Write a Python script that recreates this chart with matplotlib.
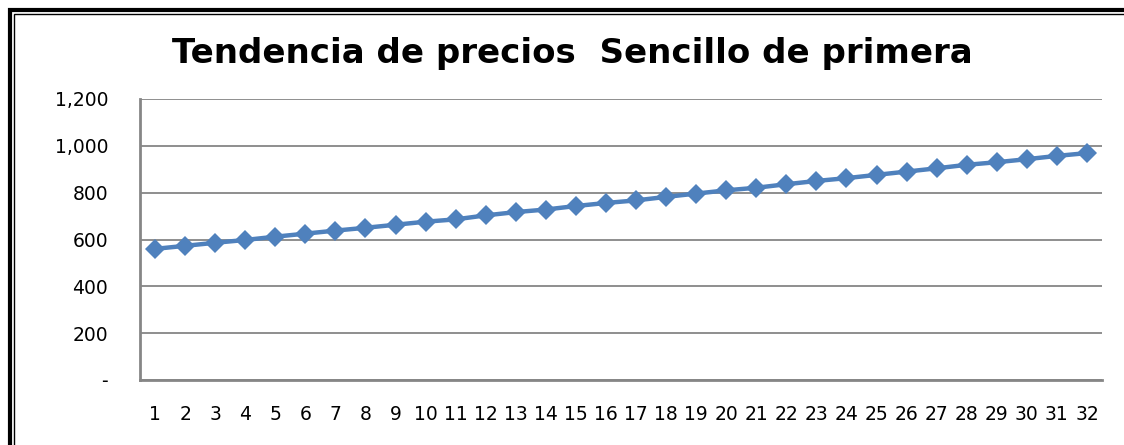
import matplotlib
matplotlib.use("Agg")
import matplotlib.pyplot as plt
from matplotlib.patches import Rectangle
from matplotlib.ticker import FuncFormatter

TITLE = "Tendencia de precios  Sencillo de primera"
periods = list(range(1, 33))
prices = [560, 573, 586, 598, 612, 625, 638, 650, 663, 676, 686, 703,
          717, 728, 743, 756, 767, 782, 796, 810, 821, 836, 850, 862,
          876, 890, 904, 919, 930, 943, 957, 969]
y_ticks = [0, 200, 400, 600, 800, 1000, 1200]

W, H = 1124, 445
plt.rcParams["font.family"] = ["DejaVu Sans"]
fig = plt.figure(figsize=(W / 100, H / 100), dpi=100)

# double frame like the excel chart border (clipped right and bottom)
fig.patches.append(Rectangle((9.5 / W, -0.1), 1.2, (H - 9.5) / H + 0.1,
                             transform=fig.transFigure, fill=False,
                             edgecolor="black", linewidth=3))
fig.patches.append(Rectangle((14 / W, -0.1), 1.2, (H - 14) / H + 0.1,
                             transform=fig.transFigure, fill=False,
                             edgecolor="black", linewidth=1))

ax = fig.add_axes([140 / W, 65 / H, 962 / W, 281 / H])
ax.plot(periods, prices, color="#4F81BD", linewidth=3.2, marker="D",
        markersize=10, markeredgewidth=0, solid_joinstyle="round")

ax.set_xlim(0.5, 32.5)
ax.set_ylim(0, 1200)
ax.set_xticks(periods)
ax.set_xticklabels([str(p) for p in periods])
ax.set_yticks(y_ticks)
ax.yaxis.set_major_formatter(FuncFormatter(lambda v, _: "-" if v == 0 else f"{int(v):,}"))
ax.grid(axis="y", color="#868686", linewidth=1.3)
ax.set_axisbelow(True)
for side in ["top", "right"]:
    ax.spines[side].set_visible(False)
for side in ["left", "bottom"]:
    ax.spines[side].set_color("#868686")
    ax.spines[side].set_linewidth(2)
ax.tick_params(axis="both", length=0, labelsize=13.5, colors="black")
ax.tick_params(axis="y", pad=23)
ax.tick_params(axis="x", pad=18)

fig.text(572 / W, 1 - 53 / H, TITLE, ha="center", va="center",
         fontsize=24.5, fontweight="bold")

fig.savefig("out.png", dpi=100)
